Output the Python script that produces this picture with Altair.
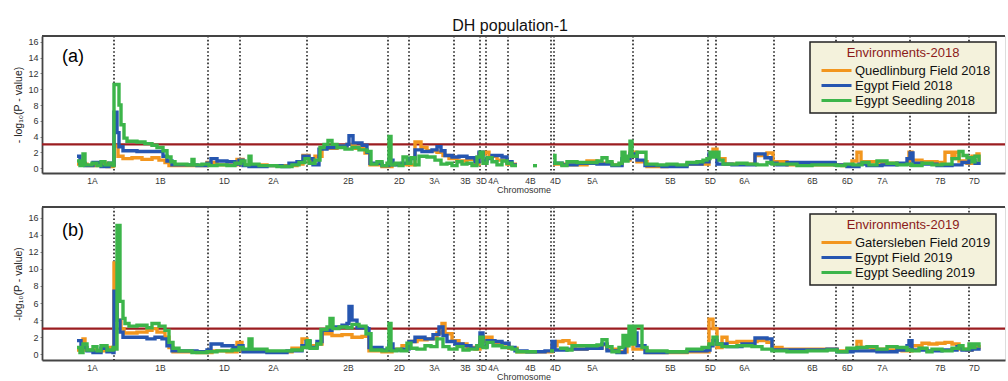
import altair as alt
import pandas as pd

CHROMS = ["1A", "1B", "1D", "2A", "2B", "2D", "3A", "3B", "3D", "4A", "4B",
          "4D", "5A", "5B", "5D", "6A", "6B", "6D", "7A", "7B", "7D"]
CHROM_LABEL_POS = [95, 163, 227, 276, 351, 402, 437, 468, 484, 496, 533,
                   558, 595, 673, 713, 747, 815, 850, 885, 943, 977]
BOUNDARIES = [117, 211, 243, 310, 391, 412, 457, 483, 489, 511, 554, 557,
              636, 711, 719, 777, 839, 856, 913, 972]
Y_TICKS = [0, 2, 4, 6, 8, 10, 12, 14, 16]
THRESHOLD = 3.0
GAP = None

NAMES_2018 = ["Quedlinburg Field 2018", "Egypt Field 2018", "Egypt Seedling 2018"]
NAMES_2019 = ["Gatersleben Field 2019", "Egypt Field 2019", "Egypt Seedling 2019"]
COLORS = ["#f2961e", "#2656b0", "#3cb54a"]

# ---- panel (a) 2018 ----
a_quedlinburg = [
    (80, 0.5), (90, 0.3), (100, 0.6), (110, 0.2), (116, 0.3), (117, 2.8), (121, 1.5),
    (126, 1.2), (135, 1.3), (145, 1.1), (155, 1.3), (162, 1.0), (168, 0.7), (172, 0.3),
    (200, 0.3), (210, 0.7), (220, 0.4), (240, 1.1), (246, 0.4), (270, 0.3), (300, 0.5),
    (306, 1.6), (312, 0.8), (318, 1.5), (325, 2.5), (340, 2.8), (350, 3.0), (358, 2.5),
    (368, 1.9), (373, 0.4), (385, 0.2), (395, 0.5), (410, 0.4), (418, 3.3), (424, 2.6),
    (430, 2.2), (440, 2.0), (446, 1.6), (452, 1.2), (460, 0.9), (470, 1.1), (478, 0.5),
    (482, 1.8), (488, 2.0), (492, 1.5), (500, 1.0), (510, 0.5), (520, 0.5), GAP,
    (556, 0.5), (570, 0.4), (590, 0.9), (600, 0.6), (615, 0.4), (625, 1.0), (633, 2.0),
    (640, 0.8), (650, 0.2), (670, 0.3), (690, 0.5), (712, 1.5), (716, 2.4), (720, 1.2),
    (728, 0.5), (758, 1.6), (770, 1.9), (776, 0.8), (790, 0.4), (830, 0.4), (845, 0.3),
    (855, 0.9), (860, 2.0), (864, 0.8), (880, 0.6), (900, 0.5), (912, 2.0), (915, 1.0),
    (925, 0.8), (940, 0.7), (948, 2.0), (955, 1.2), (958, 2.0), (962, 0.9), (970, 0.6),
    (975, 1.5), (980, 1.8), (982, 0.8),
]
a_egypt_field = [
    (80, 1.5), (83, 0.6), (88, 0.3), (96, 0.7), (104, 0.2), (112, 0.6), (116, 0.4),
    (117, 7.1), (120, 4.5), (122, 2.7), (126, 2.2), (140, 2.1), (160, 2.1), (166, 1.5),
    (170, 0.9), (175, 0.4), (200, 0.3), (210, 0.6), (214, 1.2), (220, 0.9), (230, 0.8),
    (238, 0.5), (242, 1.0), (246, 0.3), (252, 0.2), (270, 0.3), (285, 0.2), (292, 0.6),
    (300, 0.8), (306, 1.5), (312, 1.2), (316, 0.4), (322, 2.4), (330, 2.6), (340, 2.8),
    (350, 3.0), (352, 4.1), (356, 3.2), (365, 2.9), (370, 2.0), (373, 0.6), (385, 0.3),
    (392, 1.0), (396, 0.4), (405, 0.6), (412, 1.2), (418, 2.3), (425, 2.1), (435, 2.3),
    (440, 2.7), (444, 2.2), (448, 1.6), (455, 1.4), (462, 1.5), (470, 1.3), (478, 0.8),
    (482, 2.0), (486, 0.9), (490, 1.2), (495, 1.6), (505, 1.4), (510, 0.8), (515, 0.4),
    (520, 0.4), GAP,
    (556, 0.6), (565, 0.4), (580, 0.6), (600, 0.5), (615, 0.3), (625, 1.2), (633, 1.8),
    (640, 1.0), (648, 0.3), (665, 0.2), (690, 0.5), (705, 0.8), (712, 1.8), (716, 1.5),
    (720, 0.5), (735, 0.4), (758, 1.8), (768, 1.3), (774, 0.6), (780, 0.4), (790, 0.7),
    (830, 0.7), (838, 0.4), (850, 0.2), (862, 0.5), (870, 0.3), (885, 0.4), (900, 0.6),
    (910, 1.2), (913, 1.9), (916, 0.6), (925, 0.5), (940, 0.3), (955, 0.4), (965, 0.7),
    (972, 1.0), (978, 0.6), (982, 0.4),
]
a_egypt_seedling = [
    (80, 0.9), (83, 0.3), (86, 1.8), (88, 0.4), (95, 0.6), (100, 0.3), (104, 0.8),
    (108, 0.4), (112, 0.6), (116, 0.3), (117, 10.6), (122, 8.0), (124, 5.5), (127, 3.8),
    (130, 3.4), (140, 3.3), (148, 3.1), (155, 2.9), (160, 2.6), (166, 2.2), (170, 1.4),
    (174, 0.8), (178, 0.5), (190, 0.4), (195, 1.1), (197, 0.4), (205, 0.5), (212, 0.3),
    (220, 0.4), (230, 0.3), (238, 0.6), (244, 0.9), (248, 0.4), (252, 1.5), (254, 0.5),
    (262, 0.3), (280, 0.2), (295, 0.4), (302, 0.7), (308, 1.2), (312, 0.6), (318, 1.0),
    (323, 2.6), (327, 3.0), (331, 3.5), (335, 3.0), (340, 2.6), (348, 2.4), (355, 2.6),
    (362, 2.3), (370, 2.1), (374, 0.5), (380, 0.8), (385, 0.3), (390, 0.6), (392, 4.0),
    (394, 0.4), (398, 0.6), (402, 0.3), (406, 1.4), (410, 0.6), (414, 1.3), (418, 0.4),
    (422, 1.5), (430, 1.4), (438, 1.0), (444, 0.5), (450, 0.6), (455, 0.3), (460, 0.8),
    (465, 0.5), (470, 0.6), (475, 0.3), (480, 1.4), (483, 2.0), (486, 0.6), (490, 1.3),
    (495, 0.8), (500, 0.4), (505, 0.9), (510, 0.6), (515, 0.3), (520, 0.3), GAP,
    (536, 0.3), (540, 0.3), GAP,
    (556, 1.6), (558, 0.6), (565, 0.3), (570, 0.8), (580, 0.7), (590, 0.7), (600, 0.9),
    (605, 1.3), (610, 0.8), (615, 0.4), (622, 0.6), (625, 2.0), (628, 0.9), (631, 1.5),
    (633, 3.4), (635, 1.5), (640, 2.0), (646, 2.0), (649, 0.5), (660, 0.4), (670, 0.5),
    (680, 0.4), (690, 0.7), (700, 0.8), (706, 1.0), (710, 1.2), (713, 2.0), (716, 1.4),
    (719, 2.0), (722, 1.0), (726, 0.5), (740, 0.6), (750, 0.5), (760, 0.4), (770, 0.7),
    (775, 0.5), (790, 0.5), (800, 0.3), (815, 0.4), (830, 0.4), (840, 0.3), (848, 0.5),
    (856, 0.4), (865, 0.7), (872, 0.4), (880, 0.9), (890, 0.6), (900, 0.4), (910, 0.5),
    (915, 0.3), (925, 0.6), (935, 0.4), (945, 0.5), (955, 1.2), (962, 2.1), (966, 1.6),
    (970, 1.3), (975, 0.8), (978, 1.5), (982, 0.8),
]

# ---- panel (b) 2019 ----
b_gatersleben = [
    (80, 0.5), (86, 1.8), (88, 0.5), (100, 0.4), (110, 0.8), (116, 0.6), (117, 10.7),
    (120, 4.0), (124, 3.0), (127, 2.5), (140, 2.6), (150, 2.8), (155, 3.0), (160, 2.6),
    (168, 2.0), (172, 0.8), (176, 0.3), (200, 0.2), (215, 0.4), (230, 0.3), (240, 1.4),
    (245, 0.4), (270, 0.3), (295, 0.7), (305, 1.8), (310, 1.0), (320, 1.2), (325, 2.4),
    (335, 2.2), (345, 2.3), (355, 2.0), (365, 2.1), (372, 0.4), (385, 0.3), (395, 0.6),
    (405, 1.0), (412, 1.5), (420, 1.7), (430, 1.8), (440, 2.5), (445, 3.6), (448, 2.4),
    (455, 1.6), (462, 1.2), (470, 0.8), (478, 0.6), (483, 1.5), (488, 2.0), (495, 1.4),
    (505, 1.2), (512, 0.7), (520, 0.3), (550, 0.3), (555, 1.0), (560, 1.5), (566, 1.6),
    (572, 1.3), (578, 0.6), (590, 0.8), (605, 1.1), (610, 0.6), (620, 0.3), (630, 2.0),
    (636, 0.6), (650, 0.2), (670, 0.2), (690, 0.3), (712, 4.1), (716, 3.0), (720, 0.8),
    (725, 2.0), (730, 1.4), (740, 1.5), (750, 1.5), (760, 1.6), (770, 1.4), (775, 0.8),
    (785, 0.6), (830, 0.6), (840, 0.4), (850, 0.6), (860, 1.5), (864, 0.8), (875, 0.6),
    (890, 0.5), (905, 0.4), (915, 1.0), (925, 1.3), (932, 1.2), (940, 1.3), (948, 1.4),
    (955, 1.2), (962, 0.6), (970, 0.5), (975, 0.9), (982, 0.6),
]
b_egypt_field = [
    (80, 1.6), (84, 0.8), (90, 0.4), (96, 0.2), (104, 0.7), (110, 0.3), (116, 0.2),
    (117, 7.4), (120, 4.0), (123, 2.6), (126, 2.0), (140, 2.0), (150, 1.8), (158, 2.0),
    (165, 1.8), (170, 1.0), (175, 0.4), (200, 0.3), (210, 0.5), (214, 1.2), (225, 1.0),
    (236, 0.8), (242, 1.0), (246, 0.3), (270, 0.2), (290, 0.4), (305, 1.0), (309, 1.5),
    (313, 0.8), (320, 1.5), (325, 2.8), (335, 3.2), (345, 3.4), (350, 3.6), (352, 5.6),
    (355, 4.0), (360, 3.1), (370, 3.0), (372, 0.8), (385, 0.5), (392, 1.2), (396, 0.5),
    (405, 0.6), (412, 1.5), (418, 2.0), (428, 1.8), (436, 2.3), (442, 3.2), (446, 2.2),
    (450, 1.5), (458, 1.2), (466, 1.0), (474, 0.7), (480, 1.0), (483, 2.5), (486, 0.9),
    (490, 1.6), (498, 1.5), (505, 1.3), (512, 0.8), (518, 0.4), (530, 0.3), (548, 0.4),
    (555, 1.5), (558, 0.5), (570, 0.6), (590, 0.7), (605, 1.2), (610, 0.4), (620, 0.2),
    (628, 1.5), (634, 2.5), (640, 1.0), (648, 0.2), (670, 0.3), (690, 0.4), (710, 0.5),
    (713, 1.0), (716, 1.6), (720, 1.2), (730, 0.9), (745, 1.2), (758, 1.9), (770, 1.8),
    (775, 0.5), (790, 0.5), (830, 0.6), (840, 0.3), (856, 0.4), (880, 0.3), (900, 0.5),
    (910, 1.0), (912, 1.6), (915, 0.5), (930, 0.4), (945, 0.5), (960, 0.9), (965, 0.5),
    (975, 0.6), (982, 0.4),
]
b_egypt_seedling = [
    (80, 0.8), (83, 0.2), (86, 1.2), (90, 0.5), (96, 0.9), (100, 0.4), (104, 1.0),
    (110, 0.5), (116, 0.8), (118, 0.6), (120, 15.1), (123, 6.2), (126, 4.2), (128, 3.6),
    (132, 3.3), (140, 3.4), (150, 3.1), (155, 3.6), (162, 3.3), (168, 2.8), (172, 1.4),
    (176, 0.7), (182, 0.4), (195, 0.2), (210, 0.3), (220, 0.4), (235, 0.5), (242, 0.8),
    (246, 0.6), (252, 1.8), (255, 0.6), (270, 0.4), (295, 0.5), (305, 0.8), (310, 1.6),
    (313, 0.7), (320, 1.2), (324, 2.9), (330, 3.2), (333, 4.2), (336, 3.0), (342, 3.2),
    (350, 3.1), (355, 3.5), (362, 3.3), (369, 2.4), (374, 0.5), (385, 0.4), (390, 0.7),
    (392, 3.6), (394, 0.4), (400, 0.6), (404, 0.4), (410, 1.3), (414, 0.7), (420, 0.6),
    (428, 1.0), (434, 0.9), (440, 1.8), (446, 0.9), (452, 0.6), (460, 0.9), (466, 0.5),
    (472, 0.6), (480, 1.0), (483, 2.0), (486, 0.8), (490, 1.4), (496, 1.0), (505, 0.8),
    (515, 0.6), (520, 0.3), (540, 0.3), GAP,
    (553, 0.4), (557, 0.4), GAP,
    (562, 0.7), (570, 0.5), (575, 1.0), (590, 1.0), (600, 1.1), (605, 1.7), (610, 0.9),
    (615, 0.3), (622, 0.8), (626, 2.2), (629, 1.0), (632, 3.3), (635, 1.2), (638, 3.3),
    (642, 3.3), (645, 0.8), (650, 0.4), (670, 0.3), (690, 0.6), (705, 0.8), (712, 1.2),
    (716, 2.0), (720, 1.2), (725, 0.9), (740, 1.0), (755, 0.9), (765, 0.6), (775, 0.4),
    (790, 0.3), (810, 0.4), (830, 0.5), (840, 0.3), (850, 0.7), (860, 0.8), (870, 0.9),
    (880, 0.6), (890, 0.9), (900, 0.8), (910, 0.5), (915, 0.4), (922, 0.7), (930, 0.3),
    (935, 0.6), (945, 0.4), (955, 0.7), (962, 1.0), (966, 0.6), (972, 1.2), (975, 0.8),
    (978, 1.2), (982, 0.8),
]

FONT = "Liberation Sans"
X_DOMAIN = [45, 1008]
W = 963


def to_frame(points, name):
    rows, seg = [], 0
    for p in points:
        if p is None:
            seg += 1
            continue
        rows.append({"pos": p[0], "logp": p[1], "env": name, "seg": seg})
    return pd.DataFrame(rows)


label_expr = ("[" + ",".join(f"'{c}'" for c in CHROMS) + "][indexof(["
              + ",".join(str(v) for v in CHROM_LABEL_POS) + "], datum.value)]")

xscale = alt.Scale(domain=X_DOMAIN, nice=False, zero=False)
xaxis = alt.Axis(title="Chromosome", values=CHROM_LABEL_POS, labelExpr=label_expr,
                 ticks=False, grid=False, labelOverlap=False, labelFlush=False,
                 labelFontSize=8.5, labelColor="#333", labelPadding=3,
                 titleFontSize=9, titleFontWeight="normal", titleColor="#333",
                 titlePadding=1, domainColor="#444", domainWidth=1.8)

bound_df = pd.DataFrame({"pos": BOUNDARIES})
dummy = pd.DataFrame({"a": [0]})


def panel(series, names, ydomain, height, ytitle, legend_title, legend_y, letter, letter_y):
    yscale = alt.Scale(domain=ydomain, nice=False, zero=False)
    yaxis = alt.Axis(title=ytitle, values=Y_TICKS, ticks=True, tickSize=2,
                     grid=False, labelFontSize=9, labelColor="#333", labelPadding=2,
                     labelOverlap=False, labelFlush=False,
                     titleFontSize=10.5, titleFontWeight="normal", titleColor="#222",
                     titlePadding=4, domainColor="#444", domainWidth=1.8)
    X = alt.X("pos:Q", scale=xscale, axis=xaxis)
    Y = alt.Y("logp:Q", scale=yscale, axis=yaxis)
    color = alt.Color(
        "env:N",
        scale=alt.Scale(domain=names, range=COLORS),
        legend=alt.Legend(
            title=legend_title, orient="none", legendX=768, legendY=legend_y,
            fillColor="#f4f2dc", strokeColor="#222", padding=5,
            symbolType="M0,0H6", symbolSize=100, symbolStrokeWidth=3,
            labelFontSize=13, labelOffset=27, labelLimit=400, labelColor="#111",
            titleFontSize=13, titleColor="#8b1a1a", titleFontWeight="normal",
            titleAnchor="middle", titlePadding=4, rowPadding=1,
        ),
    )
    bounds = alt.Chart(bound_df).mark_rule(
        color="#111", strokeDash=[1.6, 2.2], strokeWidth=1.5).encode(x=X)
    thr = alt.Chart(pd.DataFrame({"logp": [THRESHOLD]})).mark_rule(
        color="#9b1d20", strokeWidth=2.4).encode(y=Y)
    lines = []
    for pts, nm in zip(series, names):
        df = to_frame(pts, nm)
        lines.append(alt.Chart(df).mark_line(interpolate="step-after", strokeWidth=3.4).encode(
            x=X, y=Y, color=color, detail="seg:N"))
    top = alt.Chart(pd.DataFrame({"logp": [ydomain[1]]})).mark_rule(
        color="#444", strokeWidth=1.8).encode(y=Y)
    lab = alt.Chart(dummy).mark_text(text=letter, fontSize=18, align="left",
                                     baseline="middle", font=FONT).encode(
        x=alt.value(20), y=alt.value(letter_y))
    return alt.layer(bounds, thr, *lines, top, lab).properties(width=W, height=height)


top_panel = panel([a_quedlinburg, a_egypt_field, a_egypt_seedling], NAMES_2018,
                  [-0.63, 16.76], 137, "- log₁₀(P - value)", "Environments-2018", 6, "(a)", 21)
bottom_panel = panel([b_gatersleben, b_egypt_field, b_egypt_seedling], NAMES_2019,
                     [-0.67, 17.25], 153, "-log₁₀(P - value)", "Environments-2019", 7, "(b)", 24)

chart = alt.vconcat(top_panel, bottom_panel, spacing=10).resolve_scale(
    color="independent", y="independent").properties(
    title=alt.TitleParams("DH population-1", fontSize=16, fontWeight="normal",
                          anchor="middle", offset=1, color="#111"),
    padding={"left": 13, "top": 17, "right": 0, "bottom": 0},
).configure_view(stroke=None).configure(font=FONT).configure_legend(strokeWidth=1.5)

chart.save("out.html", embed_options={"renderer": "svg", "actions": False})
